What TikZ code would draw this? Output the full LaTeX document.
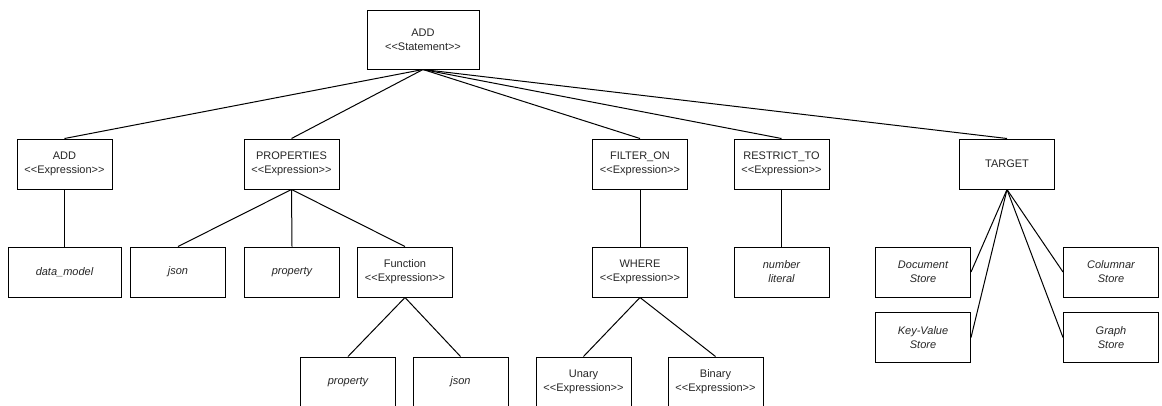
\documentclass[tikz,border=0pt]{standalone}
\usepackage{fontspec}
\setmainfont{Liberation Sans}
% stereotype brackets, kept apart so they are not joined into guillemets
\newcommand\stereo[1]{<\kern0pt<#1>\kern0pt>}
\begin{document}
\begin{tikzpicture}[x=1pt,y=-1pt,
  box/.style={draw=black,line width=1pt,fill=white,minimum width=95pt,minimum height=50pt,
    inner sep=0pt,align=center,font=\fontsize{11}{14}\selectfont,text=black!85},
  leaf/.style={box,font=\fontsize{11}{14}\selectfont\itshape},
  link/.style={draw=black,line width=1pt}]
\useasboundingbox (0,0) rectangle (1162,405);
\clip (0,0) rectangle (1162,405);
% root statement
\node[box,minimum width=112pt,minimum height=59pt] (stmt) at (423,39.5) {ADD\\\stereo{Statement}};
% first level
\node[box] (addx)   at (64.5,164)  {ADD\\\stereo{Expression}};
\node[box] (props)  at (291.5,164) {PROPERTIES\\\stereo{Expression}};
\node[box] (filt)   at (640,164)   {FILTER\_ON\\\stereo{Expression}};
\node[box] (restr)  at (781.5,164) {RESTRICT\_TO\\\stereo{Expression}};
\node[box] (target) at (1007,164)  {TARGET};
% second level
\node[leaf,minimum width=113pt] (dm) at (64.5,272) {data\_model};
\node[leaf] (json)   at (178,272)   {json};
\node[leaf] (prop)   at (292,272)   {property};
\node[box]  (func)   at (405,272)   {Function\\\stereo{Expression}};
\node[box]  (where)  at (640,272)   {WHERE\\\stereo{Expression}};
\node[leaf] (numlit) at (781.5,272) {number\\literal};
\node[leaf] (doc)    at (923,272)   {Document\\Store};
\node[leaf] (kv)     at (923,337.5) {Key-Value\\Store};
\node[leaf] (col)    at (1111,272)  {Columnar\\Store};
\node[leaf] (graph)  at (1111,337.5){Graph\\Store};
% third level
\node[leaf] (fprop)  at (348,382)   {property};
\node[leaf] (fjson)  at (460.5,382) {json};
\node[box]  (unary)  at (583.5,382) {Unary\\\stereo{Expression}};
\node[box]  (binary) at (715.5,382) {Binary\\\stereo{Expression}};
% connectors
\foreach \c in {addx,props,filt,restr,target}
  \draw[link] (stmt.south) -- (\c.north);
\draw[link] (addx.south) -- (dm.north);
\foreach \c in {json,prop,func}
  \draw[link] (props.south) -- (\c.north);
\draw[link] (filt.south) -- (where.north);
\draw[link] (restr.south) -- (numlit.north);
\draw[link] (func.south) -- (fprop.north);
\draw[link] (func.south) -- (fjson.north);
\draw[link] (where.south) -- (unary.north);
\draw[link] (where.south) -- (binary.north);
\draw[link] (target.south) -- (doc.east);
\draw[link] (target.south) -- (kv.east);
\draw[link] (target.south) -- (col.west);
\draw[link] (target.south) -- (graph.west);
\end{tikzpicture}
\end{document}
